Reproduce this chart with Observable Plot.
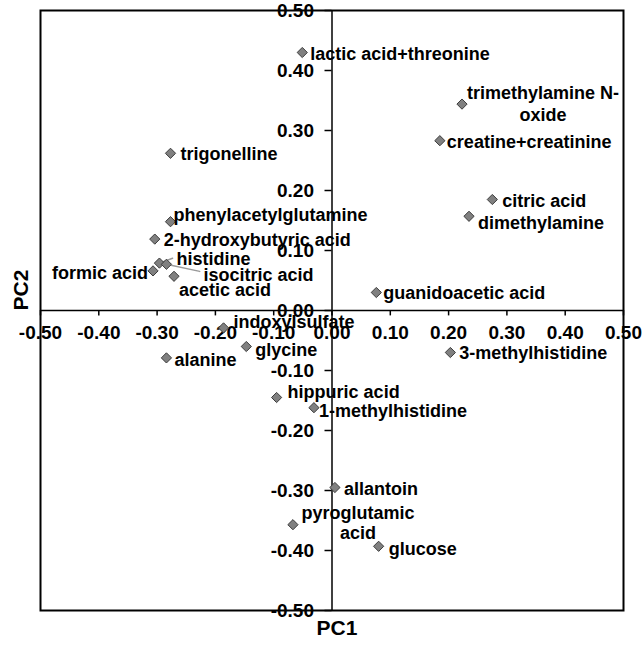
<!DOCTYPE html>
<html><head><meta charset="utf-8">
<script src="https://cdn.jsdelivr.net/npm/d3@7"></script>
<script src="https://cdn.jsdelivr.net/npm/@observablehq/plot@0.6"></script>
<style>html,body{margin:0;padding:0;background:#fff}</style>
</head><body><div id="chart"></div>
<script>
// ---- data ----
const metabolites = [
  "lactic acid+threonine", "trimethylamine N-\noxide", "creatine+creatinine", "citric acid",
  "dimethylamine", "guanidoacetic acid", "trigonelline", "phenylacetylglutamine",
  "2-hydroxybutyric acid", "histidine", "isocitric acid", "formic acid", "acetic acid",
  "indoxylsulfate", "glycine", "alanine", "hippuric acid", "1-methylhistidine",
  "3-methylhistidine", "allantoin", "pyroglutamic\nacid", "glucose"
];
const pc1 = [-0.051, 0.223, 0.185, 0.275, 0.235, 0.076, -0.277, -0.277, -0.304, -0.296, -0.284,
  -0.307, -0.271, -0.186, -0.147, -0.284, -0.095, -0.031, 0.203, 0.005, -0.067, 0.080];
const pc2 = [0.430, 0.344, 0.283, 0.185, 0.157, 0.030, 0.262, 0.148, 0.119, 0.079, 0.077,
  0.066, 0.057, -0.029, -0.060, -0.079, -0.145, -0.162, -0.070, -0.295, -0.357, -0.393];
const xTickValues = [-0.5, -0.4, -0.3, -0.2, -0.1, 0, 0.1, 0.2, 0.3, 0.4, 0.5];
const xTickLabels = ["-0.50", "-0.40", "-0.30", "-0.20", "-0.10", "0.00", "0.10", "0.20", "0.30", "0.40", "0.50"];
const yTickValues = [-0.5, -0.4, -0.3, -0.2, -0.1, 0, 0.1, 0.2, 0.3, 0.4, 0.5];
const yTickLabels = ["-0.50", "-0.40", "-0.30", "-0.20", "-0.10", "0.00", "0.10", "0.20", "0.30", "0.40", "0.50"];
const xTitle = "PC1";
const yTitle = "PC2";

// ---- label layout (pixel offsets from each point) ----
const labelDx = [8, 81, 7, 10, 9, 7, 10, 3, 9, 17, 37, -5, 5, 10, 9, 8, 11, 5, 9, 9, 65, 10];
const labelDy = [1, -1, 1, 1, 6, 0, 0, -7, 0, -5, 10, 2, 13, -6, 3, 2, -6, 3, 0, 1, -2, 2];
const labelAnchor = metabolites.map((m, i) => (i === 1 || i === 20) ? "middle" : (i === 11 ? "end" : "start"));
const leaders = [{i: 9, length: 14, rotate: 70}, {i: 10, length: 34, rotate: 102}];

const points = metabolites.map((name, i) => ({name, pc1: pc1[i], pc2: pc2[i]}));
const FONT = "'Liberation Sans', Arial, Helvetica, sans-serif";

const labelMarks = points.map((p, i) => Plot.text([p], {
  x: "pc1", y: "pc2", text: "name",
  dx: labelDx[i], dy: labelDy[i], textAnchor: labelAnchor[i],
  lineHeight: i === 1 ? 1.22 : 1.12,
  fontSize: 18, fontWeight: "bold", fill: "black"
}));

const leaderMarks = leaders.map(l => Plot.vector([points[l.i]], {
  x: "pc1", y: "pc2", length: l.length, rotate: l.rotate, anchor: "start",
  stroke: "#999", strokeWidth: 1.5,
  shape: {draw(context, len) { context.moveTo(0, 0); context.lineTo(0, -len); }}
}));

const chart = Plot.plot({
  width: 642, height: 646,
  marginLeft: 40, marginRight: 19, marginTop: 10, marginBottom: 36,
  x: {domain: [-0.5, 0.5], axis: null},
  y: {domain: [-0.5, 0.5], axis: null},
  style: {fontFamily: FONT, fontSize: "18px", fontWeight: "bold", background: "#fff", overflow: "visible"},
  marks: [
    Plot.frame({stroke: "black", strokeWidth: 2}),
    Plot.ruleX([0], {stroke: "black", strokeWidth: 1.5}),
    Plot.ruleY([0], {stroke: "black", strokeWidth: 1.5}),
    Plot.ruleX(xTickValues, {x: d => d, y1: 0, y2: -0.009, stroke: "black", strokeWidth: 1.5}),
    Plot.ruleY(yTickValues, {y: d => d, x1: 0, x2: -0.012, stroke: "black", strokeWidth: 1.5}),
    Plot.text(xTickValues, {x: d => d, y: 0, text: (d, i) => xTickLabels[i], dy: 22, fontSize: 19, fontWeight: "bold", fill: "black"}),
    Plot.text(yTickValues, {x: 0, y: d => d, text: (d, i) => yTickLabels[i], dx: -18, textAnchor: "end", fontSize: 19, fontWeight: "bold", fill: "black"}),
    ...leaderMarks,
    Plot.dot(points, {x: "pc1", y: "pc2", symbol: "diamond2", r: 4.6, fill: "#808080", stroke: "#3c3c3c", strokeWidth: 1}),
    ...labelMarks,
    Plot.text([xTitle], {frameAnchor: "bottom", dy: 24, dx: 5, fontSize: 21, fontWeight: "bold", fill: "black"}),
    Plot.text([yTitle], {frameAnchor: "left", dx: -19, rotate: -90, fontSize: 21, fontWeight: "bold", fill: "black"})
  ]
});
document.getElementById("chart").appendChild(chart);
</script>
</body></html>
